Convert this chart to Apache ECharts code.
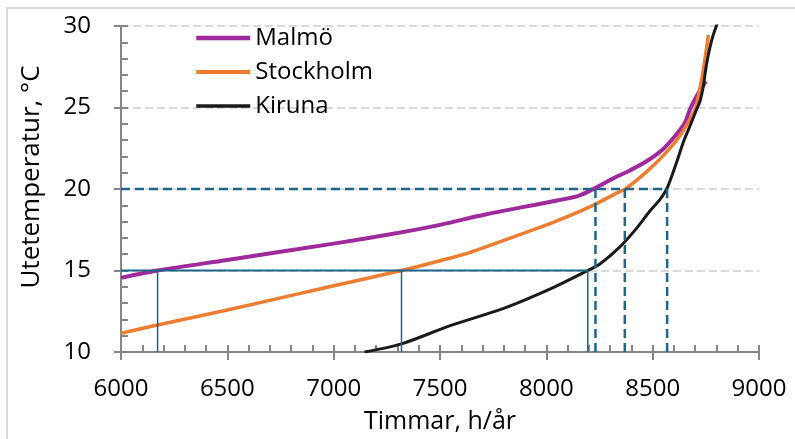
<!DOCTYPE html>
<html lang="sv">
<head>
    <meta charset="UTF-8">
    <title>Utetemperatur - varaktighet</title>
    <script src="https://cdn.jsdelivr.net/npm/echarts@6/dist/echarts.min.js"></script>
    <style>
        body, html {
            margin: 0;
            padding: 0;
            width: 100%;
            height: 100%;
            overflow: hidden;
            background-color: #fff;
        }
        #chart {
            width: 795px;
            height: 439px;
        }
    </style>
</head>
<body>
    <div id="chart"></div>
    <script>
        // varaktighetskurvor: [timmar, temperatur]
        var malmo = [
            [6000, 14.55], [6172, 15.0], [6500, 15.65], [7000, 16.65], [7300, 17.3],
            [7500, 17.8], [7718, 18.45], [8032, 19.25], [8150, 19.58], [8236, 20.1],
            [8314, 20.65], [8393, 21.14], [8471, 21.7], [8550, 22.46], [8613, 23.37],
            [8652, 24.08], [8676, 24.9], [8707, 25.7], [8750, 26.6]
        ];
        var stockholm = [
            [6000, 11.15], [6172, 11.66], [6500, 12.58], [6838, 13.58], [7000, 14.06],
            [7319, 15.0], [7500, 15.6], [7639, 16.1], [7875, 17.2], [8032, 17.95],
            [8204, 18.9], [8345, 19.84], [8372, 20.0], [8471, 21.05], [8565, 22.26],
            [8628, 23.27], [8676, 24.29], [8700, 24.9], [8715, 25.7], [8738, 27.3],
            [8762, 29.45]
        ];
        var kiruna = [
            [7145, 10.0], [7319, 10.5], [7545, 11.6], [7812, 12.74], [8032, 13.95],
            [8195, 15.0], [8252, 15.4], [8346, 16.45], [8425, 17.6], [8487, 18.65],
            [8534, 19.35], [8568, 20.05], [8613, 21.65], [8644, 22.87], [8676, 23.88],
            [8707, 24.9], [8723, 25.4], [8738, 26.3], [8754, 27.7], [8778, 29.15],
            [8805, 30.2]
        ];

        // hjälplinjer vid 15 och 20 grader
        var lowLevel = 15;
        var highLevel = 20;
        var lowCross = [6172, 7319, 8195];
        var highCross = [8231, 8369, 8568];

        var xMin = 6000, xMax = 9000, xStep = 500;
        var yMin = 10, yMax = 30, yStep = 5;

        var refColor = '#1d6589';
        var axisGray = '#868686';
        var font = '"Open Sans", "Noto Sans", sans-serif';

        var cities = [
            { name: 'Malmö', data: malmo, color: '#9e2a9c', width: 4 },
            { name: 'Stockholm', data: stockholm, color: '#ed7d31', width: 3.5 },
            { name: 'Kiruna', data: kiruna, color: '#1a1a1a', width: 3 }
        ];

        function refLine(data, dashed, width) {
            return {
                type: 'line',
                data: data,
                symbol: 'none',
                silent: true,
                lineStyle: { color: refColor, width: width, type: dashed ? [9, 5] : 'solid' },
                z: 4
            };
        }

        var series = cities.map(function (c) {
            return {
                name: c.name,
                type: 'line',
                data: c.data,
                symbol: 'none',
                smooth: 0.3,
                lineStyle: { color: c.color, width: c.width },
                itemStyle: { color: c.color },
                z: 3
            };
        });

        series.push(refLine([[xMin, lowLevel], [Math.max.apply(null, lowCross), lowLevel]], false, 2));
        lowCross.forEach(function (h) {
            series.push(refLine([[h, lowLevel], [h, yMin]], false, 1.5));
        });
        series.push(refLine([[xMin, highLevel], [Math.max.apply(null, highCross), highLevel]], true, 2.5));
        highCross.forEach(function (h) {
            series.push(refLine([[h, highLevel], [h, yMin]], true, 2.5));
        });

        var tickInside = {
            show: true, inside: true, length: 7,
            lineStyle: { color: axisGray, width: 2 }
        };
        var minorInside = {
            show: true, splitNumber: 5, length: 7,
            lineStyle: { color: axisGray, width: 2 }
        };

        function plain(v) { return String(v); }

        var option = {
            backgroundColor: '#fff',
            animation: false,
            textStyle: { fontFamily: font },
            graphic: [{
                type: 'rect',
                shape: { x: 7, y: 8, width: 900, height: 600 },
                style: { fill: 'none', stroke: '#d9d9d9', lineWidth: 2 },
                silent: true
            }],
            grid: { left: 121, right: 36, top: 26, bottom: 84 },
            legend: {
                data: cities.map(function (c) {
                    return { name: c.name, lineStyle: { width: c.width + 0.5 } };
                }),
                orient: 'vertical',
                left: 189,
                top: 21,
                itemWidth: 54,
                itemHeight: 14,
                itemGap: 10,
                itemStyle: { opacity: 0 },
                textStyle: { fontSize: 24, lineHeight: 24, color: '#000', fontFamily: font }
            },
            xAxis: [{
                type: 'value',
                position: 'bottom',
                min: xMin, max: xMax, interval: xStep,
                name: 'Timmar, h/år',
                nameLocation: 'middle',
                nameGap: 57,
                nameTextStyle: { fontSize: 25, color: '#000', fontFamily: font },
                axisLine: { show: true, lineStyle: { color: axisGray, width: 2 } },
                axisTick: { show: true, inside: false, length: 8, lineStyle: { color: axisGray, width: 2 } },
                axisLabel: { fontSize: 24, color: '#000', margin: 25, fontFamily: font, formatter: plain },
                splitLine: { show: false }
            }, {
                type: 'value',
                position: 'bottom',
                min: xMin, max: xMax, interval: xStep,
                axisLine: { show: false },
                axisTick: tickInside,
                minorTick: minorInside,
                axisLabel: { show: false },
                splitLine: { show: false }
            }],
            yAxis: [{
                type: 'value',
                position: 'left',
                min: yMin, max: yMax, interval: yStep,
                name: 'Utetemperatur, °C',
                nameLocation: 'middle',
                nameGap: 76,
                nameTextStyle: { fontSize: 26, color: '#000', fontFamily: font, padding: [0, 0, 0, 24] },
                axisLine: { show: true, lineStyle: { color: axisGray, width: 2 } },
                axisTick: { show: true, inside: false, length: 7, lineStyle: { color: axisGray, width: 2 } },
                axisLabel: { fontSize: 24, color: '#000', margin: 30, fontFamily: font, formatter: plain },
                splitLine: { show: true, lineStyle: { color: '#d9d9d9', width: 2, type: [8, 4] } }
            }, {
                type: 'value',
                position: 'left',
                min: yMin, max: yMax, interval: yStep,
                axisLine: { show: false },
                axisTick: tickInside,
                minorTick: minorInside,
                axisLabel: { show: false },
                splitLine: { show: false }
            }],
            series: series
        };

        var chart = echarts.init(document.getElementById('chart'));
        chart.setOption(option);
    </script>
</body>
</html>
